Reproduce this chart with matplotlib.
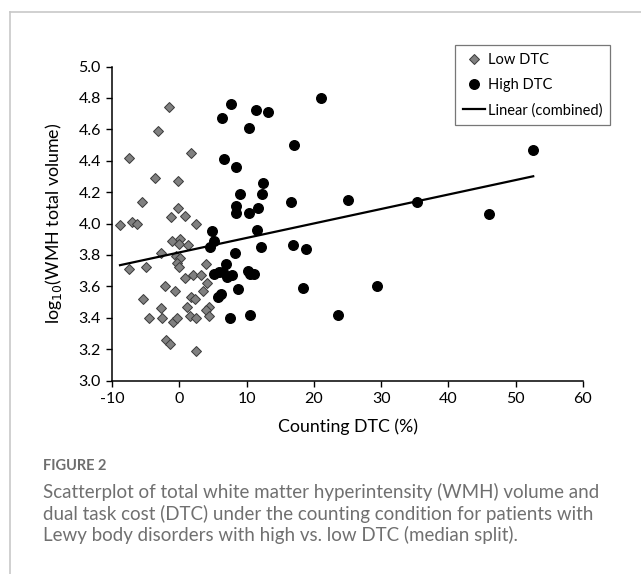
import matplotlib

matplotlib.use("Agg")
import matplotlib.pyplot as plt  # noqa: E402
import numpy as np  # noqa: E402
from matplotlib.lines import Line2D  # noqa: E402

# low DTC group (diamonds)
low_x = [-1.49, -3.21, -7.43, 1.78, -3.66, -0.19, -5.59, -0.15, -1.23, 0.89,
         2.48, -8.81, -7.03, -6.33, -1.13, 0.15, -0.04, 1.29, -2.72, -0.45,
         0.10, -0.40, -0.09, -7.43, -4.95, 3.97, 0.89, 2.08, 3.27, 4.07,
         -2.17, -0.68, 3.47, -5.44, 1.78, 2.38, -2.72, 1.10, 4.37, 3.97,
         4.46, -4.55, -2.57, -0.98, -0.39, 1.59, 2.44, -1.98, -1.38, 2.48]
low_y = [4.74, 4.59, 4.42, 4.45, 4.29, 4.27, 4.14, 4.10, 4.04, 4.05,
         4.00, 3.99, 4.01, 4.00, 3.89, 3.90, 3.87, 3.86, 3.81, 3.79,
         3.78, 3.75, 3.72, 3.71, 3.72, 3.74, 3.65, 3.67, 3.67, 3.62,
         3.60, 3.57, 3.57, 3.52, 3.53, 3.52, 3.46, 3.47, 3.47, 3.45,
         3.41, 3.40, 3.40, 3.37, 3.40, 3.41, 3.40, 3.26, 3.23, 3.19]

# high DTC group (circles)
high_x = [7.68, 6.34, 11.44, 13.18, 21.05, 10.31, 17.09, 6.69, 8.42, 12.39,
          9.06, 12.33, 16.55, 25.11, 8.42, 8.42, 10.36, 11.65, 52.6, 35.4,
          46.1, 4.86, 11.55, 5.20, 4.56, 12.10, 16.89, 18.87, 8.32, 6.94,
          5.10, 5.85, 6.55, 7.10, 7.83, 10.16, 10.55, 11.14, 8.80, 18.42,
          29.4, 5.80, 6.20, 7.53, 10.51, 23.53]
high_y = [4.76, 4.67, 4.72, 4.71, 4.80, 4.61, 4.50, 4.41, 4.36, 4.26,
          4.19, 4.19, 4.14, 4.15, 4.11, 4.07, 4.07, 4.10, 4.47, 4.14,
          4.06, 3.95, 3.96, 3.89, 3.85, 3.85, 3.86, 3.84, 3.81, 3.74,
          3.68, 3.69, 3.69, 3.66, 3.67, 3.70, 3.68, 3.68, 3.58, 3.59,
          3.60, 3.53, 3.55, 3.40, 3.42, 3.42]

x_ticks = [-10, 0, 10, 20, 30, 40, 50, 60]
y_ticks = [3.0, 3.2, 3.4, 3.6, 3.8, 4.0, 4.2, 4.4, 4.6, 4.8, 5.0]

caption = ("Scatterplot of total white matter hyperintensity (WMH) volume and\n"
           "dual task cost (DTC) under the counting condition for patients with\n"
           "Lewy body disorders with high vs. low DTC (median split).")


def main() -> int:
    plt.rcParams["font.family"] = ["Lato", "DejaVu Sans"]

    fig = plt.figure(figsize=(6.41, 5.74), dpi=100)
    ax = fig.add_axes([112 / 641, 1 - 380.5 / 574, 471 / 641, 314 / 574])

    ax.plot(low_x, low_y, linestyle="none", marker="D", ms=5.0,
            mfc="#808080", mec="#3a3a3a", mew=0.7, label="Low DTC", zorder=3)
    ax.plot(high_x, high_y, linestyle="none", marker="o", ms=6.9,
            mfc="black", mec="black", label="High DTC", zorder=3)

    # combined linear trendline
    all_x = np.array(low_x + high_x)
    all_y = np.array(low_y + high_y)
    slope, icpt = np.polyfit(all_x, all_y, 1)
    fx = np.array([all_x.min(), all_x.max()])
    ax.plot(fx, slope * fx + icpt, color="black", lw=1.6, label="Linear (combined)", zorder=4)

    ax.set_xlim(-10, 60)
    ax.set_ylim(3.0, 5.0)
    ax.set_xticks(x_ticks)
    ax.set_yticks(y_ticks)
    ax.set_xticklabels([str(t) for t in x_ticks])
    ax.set_yticklabels([f"{t:.1f}" for t in y_ticks])
    ax.tick_params(direction="out", length=4, width=1.0, labelsize=11.5, pad=4)
    for side in ("top", "right"):
        ax.spines[side].set_visible(False)
    for side in ("left", "bottom"):
        ax.spines[side].set_linewidth(1.1)

    ax.set_xlabel("Counting DTC (%)", fontsize=12.8, labelpad=9)
    ax.set_ylabel("log$_{10}$(WMH total volume)", fontsize=12.8, labelpad=10)

    leg = ax.legend(loc="upper left", bbox_to_anchor=(455 / 641, 1 - 45 / 574),
                    bbox_transform=fig.transFigure, fontsize=10.5, frameon=True,
                    fancybox=False, handlelength=1.5, handletextpad=0.2,
                    borderpad=0.55, labelspacing=0.75, borderaxespad=0)
    leg.get_frame().set_edgecolor("#555555")
    leg.get_frame().set_linewidth(0.9)

    # page frame lines
    fig.add_artist(Line2D([10 / 641, 1], [1 - 12 / 574, 1 - 12 / 574],
                          transform=fig.transFigure, color="#c8c8c8", lw=1.2))
    fig.add_artist(Line2D([10 / 641, 10 / 641], [0, 1 - 12 / 574],
                          transform=fig.transFigure, color="#c8c8c8", lw=1.2))

    fig.text(43 / 641, 1 - 466 / 574, "FIGURE 2", fontsize=10.5, color="#6e6e6e",
             fontweight="bold", va="center", ha="left")
    fig.text(43 / 641, 1 - 483 / 574, caption, fontsize=13.5, color="#707070",
             va="top", ha="left", linespacing=1.24)

    fig.savefig("out.png", dpi=100)
    plt.close(fig)
    return 0


if __name__ == "__main__":
    raise SystemExit(main())
